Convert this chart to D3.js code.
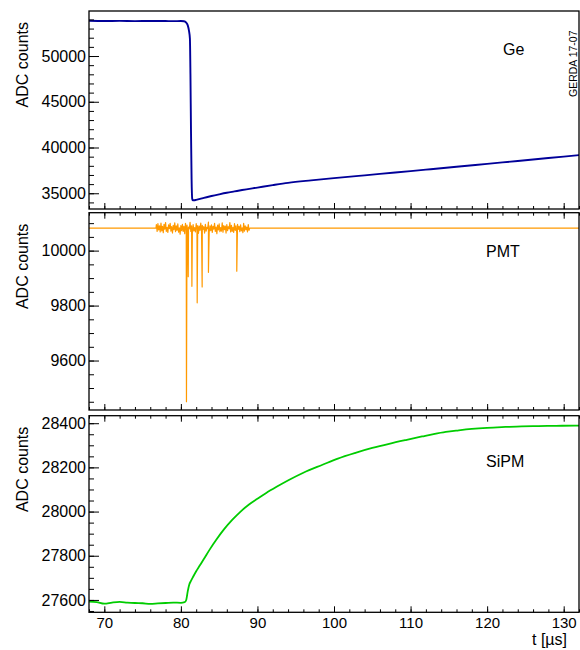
<!DOCTYPE html>
<html>
<head>
<meta charset="utf-8">
<script src="https://cdn.jsdelivr.net/npm/d3@7"></script>
<style>
  body { margin: 0; background: #fff; }
  text { font-family: "Liberation Sans", Arial, Helvetica, sans-serif; fill: #000; }
</style>
</head>
<body>
<script>
// Ge trace
const geT = [68, 70, 72, 74, 76, 78, 79, 80, 80.4, 80.7, 80.9, 81.05, 81.18, 81.25, 81.32, 81.4, 81.48, 81.55, 81.7, 82, 82.5, 83, 84, 85, 86, 87, 88, 90, 92, 94, 97, 100, 104, 108, 112, 116, 120, 124, 128, 132]
const geV = [53850, 53820, 53840, 53810, 53830, 53820, 53810, 53820, 53800, 53650, 53350, 52800, 51900, 48000, 42000, 36500, 34400, 34220, 34230, 34280, 34380, 34500, 34700, 34880, 35050, 35200, 35350, 35620, 35890, 36140, 36410, 36650, 36960, 37270, 37580, 37890, 38210, 38530, 38850, 39170]

// PMT trace: flat baseline, noisy window sampled every 0.1 us, plus single-sample spikes
const pmtBaseline = 10082
const pmtNoiseStart = 76.8
const pmtNoiseStep = 0.1
const pmtNoise = [
  10095, 10070, 10098, 10075, 10090, 10068, 10100, 10072, 10088, 10065,
  10096, 10078, 10102, 10070, 10085, 10066, 10094, 10080, 10099, 10071,
  10087, 10064, 10092, 10076, 10101, 10069, 10090, 10074, 10097, 10067,
  10083, 10060, 10091, 10073, 10096, 10070, 10088, 10062, 10099, 10075,
  10093, 10066, 10086, 10079, 10103, 10070, 10090, 10065, 10095, 10072,
  10084, 10068, 10098, 10076, 10091, 10063, 10089, 10074, 10100, 10069,
  10092, 10077, 10087, 10064, 10096, 10071, 10085, 10080, 10104, 10068,
  10090, 10073, 10094, 10066, 10088, 10078, 10099, 10070, 10086, 10062,
  10093, 10075, 10097, 10069, 10084, 10071, 10101, 10067, 10091, 10076,
  10089, 10064, 10095, 10073, 10087, 10079, 10102, 10068, 10092, 10070,
  10085, 10066, 10098, 10074, 10090, 10063, 10096, 10077, 10088, 10069,
  10094, 10072, 10083, 10065, 10099, 10071, 10090, 10076, 10086, 10068,
  10095, 10074
]
const spikeT = [80.73, 80.96, 81.44, 82.13, 82.78, 83.6, 87.3]
const spikeV = [9450, 9905, 9870, 9810, 9868, 9921, 9925]

// SiPM trace
const sipmT = [68, 69, 70, 71, 72, 73, 74, 75, 76, 77, 78, 79, 80, 80.5, 80.7, 80.9, 81.1, 81.3, 81.6, 82, 82.4, 83, 83.8, 84.6, 85.6, 86.7, 87.8, 88.9, 90, 91.1, 92.5, 94.1, 96, 98.5, 100.5, 102.8, 105, 107.2, 109.5, 111.5, 113, 114.6, 116.3, 118, 120, 122.4, 124.5, 126.7, 129, 131.5, 132]
const sipmV = [27592, 27590, 27583, 27588, 27591, 27588, 27586, 27585, 27582, 27584, 27586, 27588, 27587, 27590, 27600, 27640, 27670, 27685, 27705, 27730, 27752, 27785, 27830, 27871, 27918, 27962, 28000, 28032, 28058, 28083, 28112, 28143, 28176, 28212, 28240, 28266, 28288, 28307, 28325, 28340, 28351, 28361, 28368, 28374, 28379, 28383, 28386, 28387, 28388, 28389, 28389]

const xTicks = [70, 80, 90, 100, 110, 120, 130]
const xMinor = d3.range(68, 133, 2)

const width = 580
const height = 650
const left = 89, right = 579

const svg = d3.select("body")
    .append("svg")
    .attr("width", width)
    .attr("height", height)

const x = d3.scaleLinear().domain([68, 132]).range([left, right])

// assemble the pmt points
var pmt = [{ t: 68, v: pmtBaseline }, { t: pmtNoiseStart - 0.05, v: pmtBaseline }]
pmtNoise.forEach((v, i) => pmt.push({ t: pmtNoiseStart + i * pmtNoiseStep, v: v }))
spikeT.forEach((t, i) => pmt.push({ t: t, v: spikeV[i] }))
pmt.push({ t: pmtNoiseStart + pmtNoise.length * pmtNoiseStep, v: pmtBaseline })
pmt.push({ t: 132, v: pmtBaseline })
pmt.sort((a, b) => a.t - b.t)

const panels = [
    { top: 11, bottom: 209, domain: [33280, 54920], major: [35000, 40000, 45000, 50000], minor: d3.range(34000, 54001, 1000),
      data: geT.map((t, i) => ({ t: t, v: geV[i] })), color: "#000099", lw: 1.9, curve: d3.curveMonotoneX, label: "Ge", lx: 503, ly: 55, topTicks: false },
    { top: 212.7, bottom: 410, domain: [9420, 10138], major: [9600, 9800, 10000], minor: d3.range(9450, 10101, 50),
      data: pmt, color: "#ff9900", lw: 1.2, curve: d3.curveLinear, label: "PMT", lx: 486, ly: 257, topTicks: true },
    { top: 415.7, bottom: 612.3, domain: [27544, 28434], major: [27600, 27800, 28000, 28200, 28400], minor: d3.range(27550, 28401, 50),
      data: sipmT.map((t, i) => ({ t: t, v: sipmV[i] })), color: "#00cc00", lw: 1.8, curve: d3.curveMonotoneX, label: "SiPM", lx: 486, ly: 467, topTicks: true }
]

panels.forEach((p, k) => {
    const y = d3.scaleLinear().domain(p.domain).range([p.bottom, p.top])
    const g = svg.append("g")

    g.append("clipPath").attr("id", "clip" + k)
        .append("rect")
        .attr("x", left).attr("y", p.top)
        .attr("width", right - left).attr("height", p.bottom - p.top)

    const line = d3.line().curve(p.curve).x(d => x(d.t)).y(d => y(d.v))
    g.append("path")
        .datum(p.data)
        .attr("clip-path", "url(#clip" + k + ")")
        .attr("fill", "none")
        .attr("stroke", p.color)
        .attr("stroke-width", p.lw)
        .attr("stroke-linejoin", "round")
        .attr("d", line)

    // y axis
    g.append("g")
        .attr("transform", `translate(${left},0)`)
        .call(d3.axisLeft(y).tickValues(p.minor).tickSize(-5).tickFormat(""))
    g.append("g")
        .attr("transform", `translate(${left},0)`)
        .call(d3.axisLeft(y).tickValues(p.major).tickSize(-10).tickPadding(3).tickFormat(d3.format("d")))
        .selectAll("text").style("font-size", "16px")

    // x axis (bottom)
    g.append("g")
        .attr("transform", `translate(0,${p.bottom})`)
        .call(d3.axisBottom(x).tickValues(xMinor).tickSize(-3).tickFormat(""))
    const xb = g.append("g")
        .attr("transform", `translate(0,${p.bottom})`)
        .call(d3.axisBottom(x).tickValues(xTicks).tickSize(-6).tickPadding(5).tickFormat(k == 2 ? d3.format("d") : ""))
    xb.selectAll("text").style("font-size", "15px")

    if (p.topTicks) {
        g.append("g")
            .attr("transform", `translate(0,${p.top})`)
            .call(d3.axisTop(x).tickValues(xMinor).tickSize(-3).tickFormat(""))
        g.append("g")
            .attr("transform", `translate(0,${p.top})`)
            .call(d3.axisTop(x).tickValues(xTicks).tickSize(-6).tickFormat(""))
    }

    g.selectAll(".domain").remove()
    g.selectAll(".tick line").attr("stroke", "#000").attr("stroke-width", 1)

    g.append("rect")
        .attr("x", left).attr("y", p.top)
        .attr("width", right - left).attr("height", p.bottom - p.top)
        .attr("fill", "none")
        .attr("stroke", "#000")
        .attr("stroke-width", 1.3)

    g.append("text")
        .attr("transform", `translate(27.5,${p.top + 11}) rotate(-90)`)
        .attr("text-anchor", "end")
        .style("font-size", "16px")
        .text("ADC counts")

    g.append("text")
        .attr("x", p.lx).attr("y", p.ly)
        .style("font-size", "16px")
        .text(p.label)
})

svg.append("text")
    .attr("transform", "translate(577,97) rotate(-90)")
    .style("font-size", "10.5px")
    .text("GERDA 17-07")

svg.append("text")
    .attr("x", 567).attr("y", 645)
    .attr("text-anchor", "end")
    .style("font-size", "16px")
    .text("t [µs]")
</script>
</body>
</html>
